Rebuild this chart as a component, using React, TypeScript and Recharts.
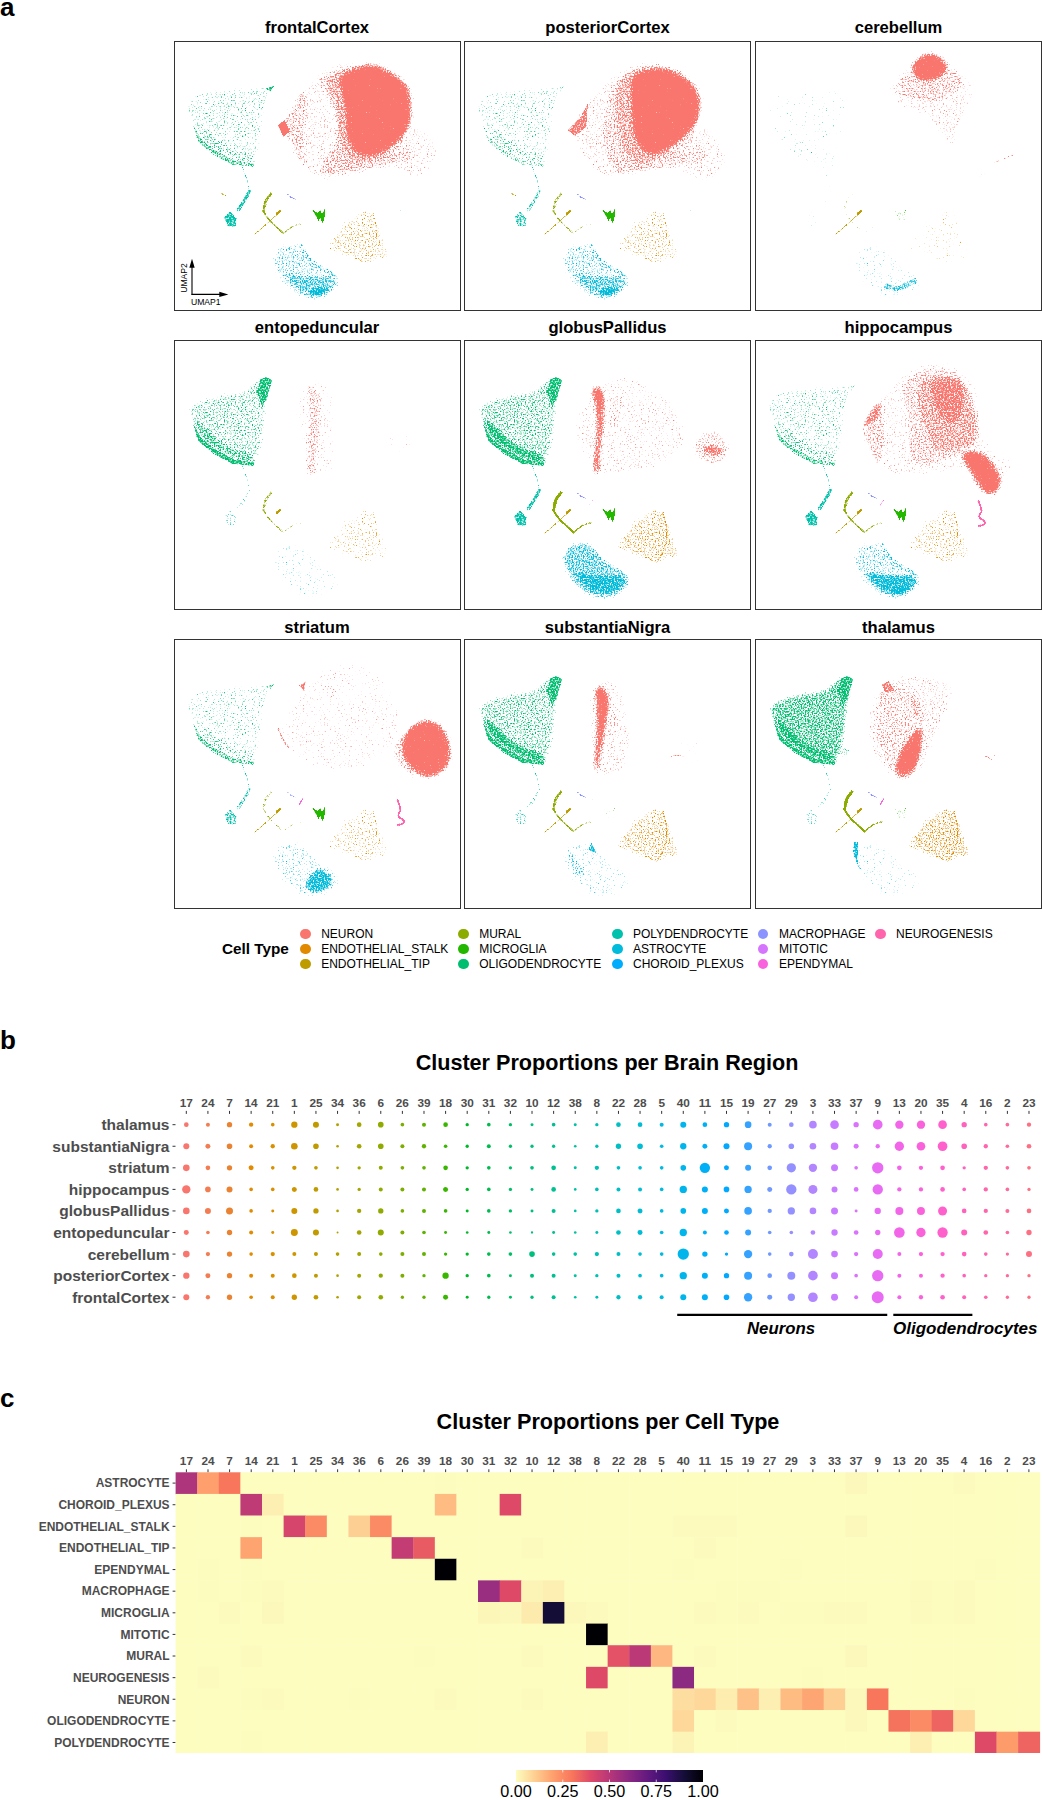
import React from "react";
import { ScatterChart, Scatter, XAxis, YAxis, ZAxis, ReferenceLine, ReferenceArea } from "recharts";

// ---------- shared categories ----------
const clusters = [17,24,7,14,21,1,25,34,36,6,26,39,18,30,31,32,10,12,38,8,22,28,5,40,11,15,19,27,29,3,33,37,9,13,20,35,4,16,2,23];
const regionRows = ["thalamus","substantiaNigra","striatum","hippocampus","globusPallidus","entopeduncular","cerebellum","posteriorCortex","frontalCortex"];
const cellRows = ["ASTROCYTE","CHOROID_PLEXUS","ENDOTHELIAL_STALK","ENDOTHELIAL_TIP","EPENDYMAL","MACROPHAGE","MICROGLIA","MITOTIC","MURAL","NEUROGENESIS","NEURON","OLIGODENDROCYTE","POLYDENDROCYTE"];

// ---------- panel b: proportion per region (one list per row, in cluster order) ----------
const thalamus = [1.36,1.0,1.78,1.17,.84,2.5,2.25,.56,1.36,2.0,.84,1.0,1.36,.69,.84,.69,.56,.84,.56,.69,1.36,1.36,1.0,2.25,1.36,1.78,2.78,1.0,1.36,3.67,4.69,1.78,5.84,4.34,4.34,4.69,1.78,.84,.84,1.17];
const substantiaNigra = [2.25,1.56,2.0,1.0,1.17,2.78,2.0,.44,1.36,2.0,1.0,1.17,.84,.69,1.0,.69,.69,.69,.44,.69,1.78,2.0,.84,2.5,1.56,2.25,4.0,1.17,2.0,2.78,3.67,1.56,1.17,5.44,4.69,5.84,2.0,1.17,.84,1.36];
const striatum = [2.78,1.36,1.78,1.56,.84,1.17,.84,.44,.69,1.0,.84,.84,1.36,.69,.84,.69,.84,1.36,.56,1.17,.84,.84,.84,2.0,6.67,1.56,2.25,1.36,5.44,4.34,3.06,.84,8.03,1.36,1.17,1.36,.69,1.17,.84,.84];
const hippocampus = [4.34,2.0,2.25,.84,.84,1.56,1.36,.44,.69,1.0,1.0,1.0,1.56,.69,.84,.69,.56,1.36,.44,.84,1.0,1.0,.84,3.36,2.25,2.0,3.36,1.56,6.67,5.06,2.25,1.36,6.67,1.17,1.17,1.36,.84,1.17,.84,.69];
const globusPallidus = [2.78,2.25,3.06,.84,.56,2.25,1.78,.44,1.17,1.78,.84,1.0,.84,.56,.84,.69,.56,1.0,.44,.69,1.36,1.56,.84,2.0,2.25,1.56,3.67,1.17,3.36,2.78,3.06,.56,2.5,4.0,4.0,5.06,1.36,1.17,1.0,1.36];
const entopeduncular = [1.56,.84,1.78,1.0,.56,3.06,2.25,.25,1.36,2.25,1.0,.84,.56,.44,.56,.44,.34,.56,.44,.56,1.36,1.56,.84,3.36,1.0,1.36,2.25,.84,.84,1.36,2.5,1.36,1.78,7.1,5.44,6.67,2.25,1.36,.84,1.78];
const cerebellum = [2.78,1.17,1.78,.84,1.17,1.0,1.0,.84,1.0,.84,1.0,1.0,.69,.69,.84,.84,2.0,.84,.84,1.17,1.0,.84,.84,8.03,1.78,.69,4.34,.84,1.36,6.25,2.78,1.17,6.25,1.0,1.17,1.17,1.36,.84,.69,2.25];
const posteriorCortex = [2.5,1.56,1.78,1.0,1.0,1.36,1.0,.44,1.0,1.17,1.0,.69,2.5,.69,.84,.56,1.0,1.0,.56,.69,1.0,.84,.84,3.36,2.25,1.78,4.0,1.36,4.0,5.84,3.06,.84,8.03,1.0,1.0,1.17,.84,.69,.69,.69];
const frontalCortex = [2.25,1.17,1.78,.84,1.0,1.78,1.36,.44,1.0,1.36,.69,.69,1.56,.56,.69,.56,.69,1.0,.44,.56,1.17,1.17,1.0,2.25,2.25,2.0,4.34,1.56,3.36,5.84,3.06,1.0,9.0,1.0,1.17,1.36,1.0,.84,.69,.69];
const regionValues = [thalamus,substantiaNigra,striatum,hippocampus,globusPallidus,entopeduncular,cerebellum,posteriorCortex,frontalCortex];

// ---------- panel c: proportion per cell type, keyed by cluster label (absent = 0) ----------
const heatAstrocyte = {17:.52,24:.2,7:.3,18:.002,37:.012,4:.006};
const heatChoroid = {14:.48,21:.03,18:.14,32:.4};
const heatStalk = {14:.002,1:.42,25:.25,36:.1,6:.25,40:.004,11:.004,15:.004,37:.01};
const heatTip = {14:.19,26:.47,39:.36,10:.004,11:.004};
const heatEpendymal = {24:.003,14:.003,18:1,40:.002,29:.002,16:.002};
const heatMacrophage = {17:.001,24:.002,14:.003,21:.005,31:.57,32:.4,10:.02,12:.03,15:.003,19:.003,27:.003,20:.006,35:.002,4:.004};
const heatMicroglia = {7:.004,21:.012,31:.015,32:.01,10:.04,12:.9,38:.01,8:.004,11:.004,15:.003,19:.004,29:.002,3:.002,33:.007,37:.007,20:.004,35:.003,4:.007};
const heatMitotic = {8:1};
const heatMural = {14:.006,39:.003,10:.006,22:.38,28:.49,5:.15,11:.004,37:.012};
const heatNeurogenesis = {24:.006,8:.4,40:.6,3:.002};
const heatNeuron = {14:.002,21:.004,36:.003,18:.006,10:.004,40:.07,11:.08,15:.035,19:.13,27:.03,29:.14,3:.185,33:.1,37:.01,9:.3,4:.002};
const heatOligo = {40:.08,15:.006,3:.001,37:.01,13:.31,20:.25,35:.34,4:.08};
const heatPoly = {14:.002,8:.03,40:.02,20:.03,16:.4,2:.21,23:.34};
const heatValues = [heatAstrocyte,heatChoroid,heatStalk,heatTip,heatEpendymal,heatMacrophage,heatMicroglia,heatMitotic,heatMural,heatNeurogenesis,heatNeuron,heatOligo,heatPoly];
const colorbarTicks = [0,.25,.5,.75,1];

// ---------- panel a: legend ----------
const legendColumns = [
  ["NEURON","ENDOTHELIAL_STALK","ENDOTHELIAL_TIP"],
  ["MURAL","MICROGLIA","OLIGODENDROCYTE"],
  ["POLYDENDROCYTE","ASTROCYTE","CHOROID_PLEXUS"],
  ["MACROPHAGE","MITOTIC","EPENDYMAL"],
  ["NEUROGENESIS"],
];
const typeColors = {NEURON:"#F8766D",ENDOTHELIAL_STALK:"#E18A00",ENDOTHELIAL_TIP:"#BE9C00",MURAL:"#8CAB00",MICROGLIA:"#24B700",OLIGODENDROCYTE:"#00BE70",POLYDENDROCYTE:"#00C1AB",ASTROCYTE:"#00BBDA",CHOROID_PLEXUS:"#00ACFC",MACROPHAGE:"#8B93FF",MITOTIC:"#D575FE",EPENDYMAL:"#F962DD",NEUROGENESIS:"#FF65AC"};

// ---------- panel a: outlines of the point clouds (UMAP units, y down) ----------
const oligoSlim = [[36,178],[58,150],[118,138],[178,138],[248,135],[306,124],[285,155],[270,225],[255,305],[248,375],[178,365],[125,340],[72,298],[46,250],[32,215]];
const oligoBroad = [[44,185],[130,160],[200,155],[255,105],[295,108],[280,170],[268,285],[248,378],[150,350],[76,298],[38,230]];
const oligoBelt = [[42,225],[85,240],[130,290],[190,325],[245,340],[245,380],[150,350],[74,298]];
const oligoBand = [[53,245],[78,290],[128,330],[178,355],[240,365],[238,378],[170,370],[118,342],[68,300]];
const oligoApex = [[255,115],[275,108],[292,118],[278,170],[262,200],[245,155]];
const oligoTip = [[270,140],[300,130],[285,150]];
const oligoSpur = [[248,308],[306,338],[238,363]];
const polyStem = [[200,375],[218,415],[223,445],[208,475],[188,510]];
const polyThick = [[223,450],[208,478],[190,505]];
const polyBlob = [[146,528],[165,510],[186,532],[182,556],[158,556]];
const polyArc = [[673,500],[688,530],[675,553]];
const tipDot = [[138,455],[152,463]];
const tipDiag = [[236,582],[306,520]];
const tipKnob = [[306,518],[314,510]];
const muralTop = [[288,457],[270,480],[266,510]];
const muralArc = [[266,510],[280,535],[303,555],[326,577]];
const muralFoot = [[326,577],[350,555],[378,547]];
const macroArc = [[338,460],[350,470],[362,473]];
const microStar = [[410,503],[428,515],[436,505],[441,517],[452,498],[449,525],[444,548],[436,530],[430,540],[425,528]];
const stalkHull = [[445,620],[505,540],[578,495],[608,530],[625,595],[650,660],[610,650],[578,678],[515,650]];
const stalkRidge = [[593,515],[613,595],[578,665]];
const stalkEdge = [[453,617],[518,640],[578,668]];
const astroHull = [[290,650],[312,605],[385,605],[412,658],[485,692],[503,733],[440,782],[370,770],[322,733],[296,680]];
const astroLow = [[320,690],[400,700],[478,700],[495,730],[438,772],[378,762],[335,722]];
const astroBase = [[378,745],[450,735],[492,730],[438,772],[390,765]];
const astroRidge = [[378,615],[408,665],[478,702]];
const astroCrescent = [[392,735],[425,745],[476,720]];
const astroCorner = [[377,738],[432,668],[488,723],[455,758],[410,768]];
const astroLeft = [[295,613],[329,638],[373,708],[340,728],[306,678]];
const astroFin = [[379,610],[396,643],[368,633]];
const astroEdge = [[293,608],[306,608],[308,678],[328,708],[303,678],[291,638]];
const ependSliver = [[383,478],[373,495]];
const neurogArc = [[668,483],[674,500],[678,513],[668,525],[672,535],[688,542],[686,553],[668,557]];
const axisUp = [[51,760],[51,665]];
const axisRight = [[51,760],[145,760]];
const arrowUp = [[51,653],[43,680],[59,680]];
const arrowRight = [[160,760],[133,752],[133,768]];

const fcHull = [[308,260],[358,165],[428,95],[508,45],[578,75],[688,145],[693,245],[778,275],[798,355],[718,425],[658,375],[478,415],[428,415],[368,365],[338,295]];
const fcLobe = [[308,260],[340,215],[370,150],[400,135],[405,220],[385,320],[415,400],[370,365],[338,295]];
const fcTip = [[308,250],[330,235],[345,270],[325,285]];
const fcLower = [[415,400],[470,290],[650,340],[700,290],[725,365],[650,370],[478,412]];
const fcMid = [[415,105],[508,70],[610,70],[695,165],[705,295],[650,355],[478,405],[440,395],[480,290],[478,205],[440,150]];
const fcInner = [[445,105],[508,70],[610,65],[705,170],[710,270],[640,345],[538,385],[480,300],[480,205],[452,150]];
const fcCore = [[480,100],[560,65],[610,65],[700,120],[712,180],[710,265],[640,335],[550,360],[505,290],[510,210],[492,150]];
const pcHull = [[307,265],[365,170],[455,90],[538,40],[655,85],[688,145],[691,255],[744,255],[800,365],[722,435],[655,390],[544,390],[443,415],[382,400],[343,335]];
const pcMid = [[440,100],[640,70],[695,225],[705,300],[560,390],[440,405],[400,300],[420,180]];
const pcInner = [[445,110],[530,65],[630,70],[700,135],[708,230],[650,310],[544,385],[470,345],[445,245]];
const pcCore = [[485,100],[560,70],[630,80],[705,135],[712,230],[650,305],[555,360],[500,300],[495,200]];
const pcLow = [[430,405],[480,300],[650,330],[705,290],[745,370],[650,375],[500,400]];
const pcTip = [[307,265],[343,230],[370,180],[365,255],[332,285]];
const cbHull = [[392,135],[459,65],[593,65],[671,145],[615,235],[604,325],[559,295],[515,215],[431,210],[403,165]];
const cbMid = [[448,85],[582,65],[638,115],[594,165],[527,195],[448,165],[409,135]];
const cbHead = [[460,75],[492,38],[531,28],[578,60],[578,98],[515,128],[470,110]];
const cbStreak = [[431,155],[470,165],[537,173]];
const cbArc = [[715,363],[782,335]];
const cbSpots = [[648,375],[715,375],[682,445]];
const enHull = [[354,203],[388,123],[455,113],[488,193],[477,313],[488,393],[399,413],[377,283]];
const enBand = [[382,128],[421,133],[449,173],[438,283],[427,413],[388,413],[393,303],[399,193]];
const enDots = [[588,328],[700,243],[722,333],[677,348]];
const gpHull = [[312,273],[373,143],[485,93],[596,153],[652,233],[674,323],[563,393],[407,413],[351,333]];
const gpBand = [[373,143],[395,128],[423,153],[418,253],[407,343],[407,413],[379,403],[390,303],[395,203]];
const gpSide = [[423,153],[496,163],[473,243],[423,283]];
const gpCloud = [[674,323],[708,273],[763,263],[807,328],[763,383],[708,368]];
const gpCore = [[696,323],[741,303],[797,333],[741,358]];
const hcHull = [[308,268],[373,158],[508,43],[628,83],[678,173],[688,333],[788,353],[758,403],[733,433],[703,453],[628,383],[468,413],[378,403],[338,333]];
const hcMid = [[438,113],[518,73],[628,93],[673,213],[678,313],[628,343],[518,383],[448,373],[458,243],[428,153]];
const hcInner = [[470,125],[530,95],[625,105],[665,210],[670,310],[620,335],[530,345],[490,240]];
const hcCore = [[530,100],[635,108],[625,250],[558,260],[510,163]];
const hcLobe = [[308,268],[373,158],[398,243],[378,403],[338,333]];
const hcEdge = [[308,268],[368,163],[388,223],[333,263]];
const hcFoot = [[600,335],[680,322],[745,410],[725,465],[680,465],[640,390]];
const stHull = [[310,268],[388,118],[499,58],[610,88],[700,228],[655,328],[555,398],[455,398],[365,358],[332,318]];
const stPatch = [[432,128],[488,128],[499,188],[455,188]];
const stFringe = [[640,335],[695,260],[711,388],[744,425],[695,415]];
const stBall = [[695,265],[745,235],[800,250],[832,318],[825,385],[760,425],[700,390],[668,325]];
const stMark = [[371,138],[393,123],[388,153]];
const stLine = [[388,148],[397,208]];
const stEdge = [[310,268],[321,298],[341,323]];
const snHull = [[367,188],[384,128],[451,108],[496,218],[496,388],[418,418],[384,408],[373,288]];
const snSide = [[418,148],[479,218],[435,318],[412,258]];
const snBand = [[384,138],[417,133],[440,178],[423,268],[412,338],[401,408],[384,408],[390,308],[395,208]];
const snDots = [[595,338],[695,273],[717,388],[629,383]];
const snStreak = [[618,350],[663,346]];
const thHull = [[328,228],[378,128],[448,98],[618,128],[548,268],[513,368],[488,413],[408,418],[363,378],[333,298]];
const thMid = [[373,138],[408,123],[498,158],[513,258],[488,388],[418,413],[368,348],[348,218]];
const thCore = [[418,348],[488,248],[508,268],[488,388],[448,418],[413,413]];
const thTop = [[376,133],[398,123],[418,153],[388,158]];
const thRidge = [[458,158],[488,158],[498,258],[468,238]];
const thRight = [[658,328],[708,318],[753,388]];
const thStreak = [[688,350],[708,360]];

// stroke widths of the outlines that are curves instead of filled areas
const strokeWidths = new Map<any, number>([
  [polyStem,1.8],[polyThick,3.8],[polyArc,1.1],[tipDot,1.8],[tipDiag,1.1],[tipKnob,2.8],[muralTop,3.2],[muralArc,2.2],[muralFoot,1.8],[macroArc,1.8],
  [stalkRidge,2.2],[stalkEdge,1],[astroRidge,5],[astroCrescent,6],[ependSliver,1.4],[neurogArc,2],[axisUp,1.1],[axisRight,1.1],
  [cbStreak,1.6],[cbArc,1.4],[stLine,1.2],[stEdge,2.4],[snStreak,1.4],[thStreak,1.4],
]);
const fineShapes = new Set<any>([oligoBand,oligoTip,oligoApex,polyBlob,microStar,fcTip,astroFin,astroEdge,stMark,thTop,pcTip]);

// per-panel cloud density of the clusters that keep their place in every panel
const panelNames = ["frontalCortex","posteriorCortex","cerebellum","entopeduncular","globusPallidus","hippocampus","striatum","substantiaNigra","thalamus"];
const oligoDensity = [.25,.2,.03,.45,.55,.25,.2,.55,.7];
const beltDensity = [.45,.35,.06,.7,.85,.45,.35,.85,.85];
const bandDensity = [.7,.55,.1,.85,.85,.7,.7,.85,.85];
const stalkDensity = [.35,.3,.06,.2,.45,.3,.25,.45,.55];
const ridgeDensity = [.55,.45,.06,.3,.7,.55,.45,.7,.7];
const astroDensity = [.45,.45,.1,.1,.7,.45,.25,.15,.1];
const polyDensity = [.85,.7,.06,.35,.85,.85,.7,.45,.35];
const muralDensity = [.85,.7,.2,.7,1,.85,.55,.85,1];
const microDensity = [1,1,.35,0,1,1,1,.2,.35];
const macroDensity = [.7,.7,0,0,.7,.7,.55,.7,.7];
const ependDensity = [0,0,0,0,.7,.85,1,.55,1];
const neurogDensity = [0,0,0,0,0,1,1,0,0];

const neuronLayers: any[][] = [
  [[fcHull,.2],[fcLobe,.55],[fcLower,.55],[fcMid,.55],[fcInner,.7],[fcCore,1],[fcTip,1]],
  [[pcHull,.2],[pcLow,.45],[pcMid,.55],[pcInner,.7],[pcCore,1],[pcTip,.85]],
  [[cbHull,.2],[cbSpots,.06],[cbMid,.55],[cbHead,1],[cbStreak,.7],[cbArc,.55]],
  [[enHull,.1],[enDots,.03],[enBand,.55]],
  [[gpHull,.15],[gpSide,.35],[gpBand,1],[gpCloud,.45],[gpCore,.85]],
  [[hcHull,.15],[hcLobe,.55],[hcMid,.55],[hcInner,.7],[hcEdge,.85],[hcCore,.85],[hcFoot,1]],
  [[stHull,.1],[stPatch,.25],[stFringe,.55],[stBall,1],[stMark,.85],[stLine,.55],[stEdge,.7]],
  [[snHull,.2],[snDots,.03],[snSide,.35],[snBand,1],[snStreak,.55]],
  [[thHull,.25],[thRight,.1],[thMid,.45],[thRidge,.7],[thTop,.85],[thCore,1],[thStreak,.85]],
];
const extraLayers: any[][] = [
  [[oligoTip,"OLIGODENDROCYTE",.85]],
  [[oligoTip,"OLIGODENDROCYTE",.55]],
  [[astroCrescent,"ASTROCYTE",.7]],
  [[oligoApex,"OLIGODENDROCYTE",.85]],
  [[oligoApex,"OLIGODENDROCYTE",.85]],
  [[oligoTip,"OLIGODENDROCYTE",.55]],
  [[oligoTip,"OLIGODENDROCYTE",.7],[astroCorner,"ASTROCYTE",.85]],
  [[oligoApex,"OLIGODENDROCYTE",.85],[astroLeft,"ASTROCYTE",.55],[astroFin,"ASTROCYTE",.85]],
  [[oligoApex,"OLIGODENDROCYTE",.85],[oligoSpur,"OLIGODENDROCYTE",.55],[astroEdge,"ASTROCYTE",.85]],
];
const lowDense = [true,true,false,false,false,true,false,false,false];
const broadOligo = [false,false,false,true,true,false,false,true,true];

const DENSITY_LEVELS = [.03,.06,.1,.15,.2,.25,.3,.35,.45,.55,.7,.85,1];
const SOURCE_OPACITY = [.27,.30,.33,.36,.38,.40,.42,.44,.47,.50,.60,.72,1];

function opacityFor(d: number) {
  let best = 0;
  DENSITY_LEVELS.forEach((l, i) => { if (Math.abs(l - d) < Math.abs(DENSITY_LEVELS[best] - d)) best = i; });
  return SOURCE_OPACITY[best];
}

function layersFor(p: number) {
  const L: any[] = [];
  const add = (pts: any, type: string, d: number) => { if (d > 0) L.push({ pts, type, d }); };
  add(broadOligo[p] ? oligoBroad : oligoSlim, "OLIGODENDROCYTE", oligoDensity[p]);
  add(oligoBelt, "OLIGODENDROCYTE", beltDensity[p]);
  add(oligoBand, "OLIGODENDROCYTE", bandDensity[p]);
  add(polyStem, "POLYDENDROCYTE", Math.min(polyDensity[p], .55));
  add(polyThick, "POLYDENDROCYTE", polyDensity[p]);
  add(polyBlob, "POLYDENDROCYTE", polyDensity[p]);
  add(polyArc, "POLYDENDROCYTE", p === 0 || p === 1 ? .55 : 0);
  add(tipDot, "ENDOTHELIAL_TIP", p === 0 || p === 1 ? .7 : 0);
  add(tipDiag, "ENDOTHELIAL_TIP", p === 3 ? 0 : .85);
  add(tipKnob, "ENDOTHELIAL_TIP", 1);
  add(muralTop, "MURAL", muralDensity[p]);
  add(muralArc, "MURAL", muralDensity[p]);
  add(muralFoot, "MURAL", muralDensity[p] * .8);
  add(macroArc, "MACROPHAGE", macroDensity[p]);
  add(ependSliver, "EPENDYMAL", ependDensity[p]);
  add(microStar, "MICROGLIA", microDensity[p]);
  add(stalkHull, "ENDOTHELIAL_STALK", stalkDensity[p]);
  add(stalkRidge, "ENDOTHELIAL_STALK", ridgeDensity[p]);
  add(stalkEdge, "ENDOTHELIAL_STALK", ridgeDensity[p]);
  add(astroHull, "ASTROCYTE", astroDensity[p]);
  if (lowDense[p]) {
    add(astroLow, "ASTROCYTE", p === 5 ? .85 : .7);
    add(astroBase, "ASTROCYTE", 1);
    add(astroRidge, "ASTROCYTE", .55);
  }
  if (p === 4) add(astroLow, "ASTROCYTE", .85);
  add(neurogArc, "NEUROGENESIS", neurogDensity[p]);
  neuronLayers[p].forEach(([pts, d]) => add(pts, "NEURON", d));
  extraLayers[p].forEach(([pts, type, d]) => add(pts, type, d));
  return L;
}

const Nothing = () => <g />;

const straightPath = (points: any[], closed: boolean) =>
  points.map((q, i) => (i ? "L" : "M") + q.x + " " + q.y).join(" ") + (closed ? " Z" : "");

// rounded outline: the corners are cut by running through the midpoints of the sides
function roundedPath(points: any[], closed: boolean) {
  const n = points.length;
  const mid = (a: any, b: any) => `${(a.x + b.x) / 2} ${(a.y + b.y) / 2}`;
  if (!closed) {
    if (n < 3) return straightPath(points, false);
    let d = `M${points[0].x} ${points[0].y} L${mid(points[0], points[1])}`;
    for (let i = 1; i < n - 1; i++) d += ` Q${points[i].x} ${points[i].y} ${mid(points[i], points[i + 1])}`;
    return d + ` L${points[n - 1].x} ${points[n - 1].y}`;
  }
  let d = "M" + mid(points[n - 1], points[0]);
  points.forEach((q, i) => { d += ` Q${q.x} ${q.y} ${mid(q, points[(i + 1) % n])}`; });
  return d + " Z";
}

function cloudLine(layer: any, color: string) {
  const width = strokeWidths.get(layer.pts);
  const isLine = width !== undefined;
  const fine = isLine || fineShapes.has(layer.pts);
  const filter = layer.plain ? undefined : fine ? "url(#cloudFine)" : layer.d >= 1 ? "url(#cloudSoft)" : "url(#cloud)";
  const op = layer.plain ? 1 : opacityFor(layer.d);
  const rounded = !layer.plain && (isLine || !fine);
  return (props: any) => (
    <path
      d={rounded ? roundedPath(props.points, !isLine) : straightPath(props.points, !isLine)}
      fill={isLine ? "none" : color}
      fillOpacity={op}
      stroke={isLine ? color : "none"}
      strokeOpacity={op}
      strokeWidth={width}
      strokeLinecap="round"
      strokeLinejoin="round"
      filter={filter}
    />
  );
}

function toPoints(pts: number[][]) {
  return pts.map(([x, y]) => ({ x, y }));
}

const PANEL_W = 285;
const PANEL_H = 268;
const panelLefts = [174.5, 465, 756];
const panelTops = [42, 340.5, 640];
const titleTops = [28, 328, 628];

function UmapPanel({ index }: { index: number }) {
  const col = index % 3;
  const row = Math.floor(index / 3);
  const layers = layersFor(index);
  return (
    <>
      <div style={{ position: "absolute", left: panelLefts[col], width: PANEL_W, top: titleTops[row] - 12, height: 24, lineHeight: "24px", textAlign: "center", fontWeight: 700, fontSize: 16.6, color: "#000" }}>{panelNames[index]}</div>
      <div style={{ position: "absolute", left: panelLefts[col], top: panelTops[row], width: PANEL_W, height: PANEL_H }}>
        <ScatterChart width={PANEL_W} height={PANEL_H} margin={{ top: 0, right: 0, bottom: 0, left: 0 }}>
          <XAxis type="number" dataKey="x" domain={[0, 855]} hide />
          <YAxis type="number" dataKey="y" domain={[0, 807]} reversed hide />
          {layers.map((l, i) => (
            <Scatter key={i} data={toPoints(l.pts)} fill={typeColors[l.type]} isAnimationActive={false} shape={Nothing} line={cloudLine(l, typeColors[l.type])} />
          ))}
          {index === 0 && [axisUp, axisRight, arrowUp, arrowRight].map((pts, i) => (
            <Scatter key={"ax" + i} data={toPoints(pts)} fill="#000" isAnimationActive={false} shape={Nothing} line={cloudLine({ pts, d: 1, plain: true }, "#000")} />
          ))}
        </ScatterChart>
      </div>
      <div style={{ position: "absolute", left: panelLefts[col] - 1, top: panelTops[row] - 1, width: PANEL_W + 2, height: PANEL_H + 2, boxSizing: "border-box", border: "1.4px solid #333" }} />
    </>
  );
}

// ---------- colours ----------
function hueColor(h: number) {
  const L = 65, C = 100, r = (h * Math.PI) / 180;
  const U = C * Math.cos(r), V = C * Math.sin(r);
  const Y = Math.pow((L + 16) / 116, 3);
  const u = U / (13 * L) + 0.19783, v = V / (13 * L) + 0.46832;
  const X = (9 * Y * u) / (4 * v);
  const Z = -X / 3 - 5 * Y + (3 * Y) / v;
  const lin = [3.2406 * X - 1.5372 * Y - 0.4986 * Z, -0.9689 * X + 1.8758 * Y + 0.0415 * Z, 0.0557 * X - 0.204 * Y + 1.057 * Z];
  const g = lin.map((c) => {
    const k = c <= 0.0031308 ? 12.92 * Math.max(c, 0) : 1.055 * Math.pow(c, 1 / 2.4) - 0.055;
    return Math.round(Math.min(1, k) * 255);
  });
  return `rgb(${g[0]},${g[1]},${g[2]})`;
}
const magmaStops = ["#FCFDBF","#FECF92","#FE9F6D","#F8765C","#DE4968","#B73779","#8C2981","#641A80","#3B0F70","#140E36","#000004"];
function magma(t: number) {
  const p = Math.min(.9999, t) * 10, i = Math.floor(p), f = p - i;
  const a = magmaStops[i], b = magmaStops[i + 1];
  const ch = (s: string, k: number) => parseInt(s.slice(1 + k * 2, 3 + k * 2), 16);
  return `rgb(${[0, 1, 2].map((k) => Math.round(ch(a, k) + (ch(b, k) - ch(a, k)) * f)).join(",")})`;
}

// ---------- panels b and c ----------
const tickStyle = { fontSize: 11.8, fontWeight: 700, fill: "#4D4D4D", fontFamily: "Liberation Sans" };
const clusterLabel = (i: number) => String(clusters[i]);
const colTicks = clusters.map((_, i) => i);

function DotPlot() {
  return (
    <div style={{ position: "absolute", left: 0, top: 1080 }}>
      <ScatterChart width={1042} height={258} margin={{ top: 0, right: 2.2, bottom: 30, left: 0 }}>
        <XAxis type="number" dataKey="col" orientation="top" height={33.9} domain={[-0.5, 39.5]} ticks={colTicks} interval={0} tickFormatter={clusterLabel} axisLine={false} tickSize={3} tickMargin={4} stroke="#333" tick={tickStyle} />
        <YAxis type="number" dataKey="row" width={175.5} domain={[-0.5, 8.5]} reversed ticks={regionRows.map((_, i) => i)} interval={0} tickFormatter={(i: number) => regionRows[i]} axisLine={false} tickSize={3} tickMargin={3} stroke="#333" tick={{ fontSize: 15.5, fontWeight: 700, fill: "#4D4D4D", fontFamily: "Liberation Sans" }} />
        <ZAxis type="number" dataKey="v" domain={[0, 9]} range={[0, 113]} />
        {clusters.map((c, ci) => (
          <Scatter key={c} data={regionRows.map((_, ri) => ({ col: ci, row: ri, v: regionValues[ri][ci] }))} fill={hueColor(15 + (360 * ci) / 40)} isAnimationActive={false} />
        ))}
        <ReferenceLine ifOverflow="visible" stroke="#000" strokeWidth={2.2} segment={[{ x: 22.72, y: 8.82 }, { x: 32.44, y: 8.82 }]} />
        <ReferenceLine ifOverflow="visible" stroke="#000" strokeWidth={2.2} segment={[{ x: 32.72, y: 8.82 }, { x: 36.38, y: 8.82 }]} />
      </ScatterChart>
    </div>
  );
}

const heatCells = cellRows.flatMap((_, ri) => clusters.map((c, ci) => ({ col: ci, row: ri, v: heatValues[ri][c] ?? 0 })));
const CELL_W = 21.6;
const CELL_H = 21.62;
const HeatCell = (props: any) => (
  <rect x={props.cx - CELL_W / 2} y={props.cy - CELL_H / 2} width={CELL_W + .4} height={CELL_H + .4} fill={magma(props.payload.v)} />
);

function Heatmap() {
  return (
    <div style={{ position: "absolute", left: 0, top: 1440 }}>
      <ScatterChart width={1042} height={313.3} margin={{ top: 0, right: 2.3, bottom: 0, left: 0 }}>
        <XAxis type="number" dataKey="col" orientation="top" height={32.3} domain={[-0.5, 39.5]} ticks={colTicks} interval={0} tickFormatter={clusterLabel} axisLine={false} tickSize={3} tickMargin={4} stroke="#333" tick={tickStyle} />
        <YAxis type="number" dataKey="row" width={175.6} domain={[-0.5, 12.5]} reversed ticks={cellRows.map((_, i) => i)} interval={0} tickFormatter={(i: number) => cellRows[i]} axisLine={false} tickSize={3} tickMargin={3} stroke="#333" tick={{ fontSize: 12, fontWeight: 700, fill: "#4D4D4D", fontFamily: "Liberation Sans" }} />
        <Scatter data={heatCells} fill="#FCFDBF" isAnimationActive={false} shape={HeatCell} />
      </ScatterChart>
    </div>
  );
}

function Colorbar() {
  return (
    <div style={{ position: "absolute", left: 476, top: 1760 }}>
      <ScatterChart width={267} height={40} margin={{ top: 10, right: 40, bottom: 0, left: 40 }}>
        <XAxis type="number" dataKey="x" height={18} domain={[0, 1]} ticks={colorbarTicks} interval={0} tickFormatter={(v: number) => v.toFixed(2)} axisLine={false} tickLine={false} tickMargin={-3} tick={{ fontSize: 16.2, fill: "#000", fontFamily: "Liberation Sans" }} />
        <YAxis type="number" dataKey="y" domain={[0, 1]} hide />
        <ReferenceArea x1={0} x2={1} y1={0} y2={1} fill="url(#magmaBar)" fillOpacity={1} stroke="none" ifOverflow="visible" />
        <Scatter data={colorbarTicks.map((x) => ({ x, y: .5 }))} isAnimationActive={false} shape={Nothing} />
        {colorbarTicks.slice(1, 4).flatMap((x) => [
          <ReferenceLine key={x + "a"} stroke="#fff" strokeOpacity={.7} segment={[{ x, y: 0 }, { x, y: .2 }]} />,
          <ReferenceLine key={x + "b"} stroke="#fff" strokeOpacity={.7} segment={[{ x, y: .8 }, { x, y: 1 }]} />,
        ])}
      </ScatterChart>
    </div>
  );
}

function SharedDefs() {
  const region = { filterUnits: "userSpaceOnUse", x: -5, y: -5, width: 300, height: 280, colorInterpolationFilters: "sRGB" } as any;
  const speckle = (id: string, blur: number) => (
    <filter id={id} {...region}>
      <feGaussianBlur in="SourceGraphic" stdDeviation={blur} result="b" />
      <feTurbulence type="fractalNoise" baseFrequency="0.71 0.67" numOctaves={2} seed={7} result="n" />
      <feColorMatrix in="n" type="matrix" values="0 0 0 0 0  0 0 0 0 0  0 0 0 0 0  0 0 0 1 0" result="na" />
      <feComposite in="b" in2="na" operator="arithmetic" k1={0} k2={4} k3={4} k4={-4} result="mask" />
      <feColorMatrix in="b" type="matrix" values="1 0 0 0 0  0 1 0 0 0  0 0 1 0 0  0 0 0 60 0" result="col" />
      <feComposite in="col" in2="mask" operator="in" />
    </filter>
  );
  return (
    <svg width={0} height={0} style={{ position: "absolute", left: 0, top: 0 }}>
      <defs>
        <linearGradient id="magmaBar" x1="0" x2="1" y1="0" y2="0">
          {magmaStops.map((c, i) => <stop key={i} offset={i / 10} stopColor={c} />)}
        </linearGradient>
        {speckle("cloud", 2)}
        {speckle("cloudSoft", 3.5)}
        {speckle("cloudFine", 0.45)}
      </defs>
    </svg>
  );
}

const legendDotX = [305.6, 463.6, 617.4, 763.3, 880.4];
const legendRowY = [933.7, 949, 963.7];

function Legend() {
  return (
    <>
      <div style={{ position: "absolute", left: 222, top: 939, height: 20, lineHeight: "20px", fontSize: 15.3, fontWeight: 700, color: "#000", whiteSpace: "nowrap" }}>Cell Type</div>
      {legendColumns.map((col, ci) => col.map((name, ri) => (
        <React.Fragment key={name}>
          <div style={{ position: "absolute", left: legendDotX[ci] - 5.2, top: legendRowY[ri] - 5.2, width: 10.4, height: 10.4, borderRadius: "50%", background: typeColors[name] }} />
          <div style={{ position: "absolute", left: legendDotX[ci] + 15.6, top: legendRowY[ri] - 8, height: 16, lineHeight: "16px", fontSize: 12, color: "#000", whiteSpace: "nowrap" }}>{name}</div>
        </React.Fragment>
      )))}
    </>
  );
}

function Abs({ left, top, size, bold = true, italic = false, w, center, lh, children }: any) {
  return (
    <div style={{ position: "absolute", left, top, width: w, textAlign: center ? "center" : "left", fontSize: size, lineHeight: `${lh ?? Math.round(size * 1.2)}px`, fontWeight: bold ? 700 : 400, fontStyle: italic ? "italic" : "normal", color: "#000", whiteSpace: "nowrap" }}>{children}</div>
  );
}

export default function App() {
  return (
    <div style={{ position: "absolute", left: 0, top: 0, width: 1042, height: 1800, background: "#fff", overflow: "hidden", fontFamily: "'Liberation Sans', Arial, sans-serif" }}>
      <SharedDefs />
      <Abs left={0} top={0} size={26} lh={14}>a</Abs>
      <Abs left={0} top={1025} size={26}>b</Abs>
      <Abs left={0} top={1383} size={26}>c</Abs>
      {panelNames.map((_, i) => <UmapPanel key={i} index={i} />)}
      <div style={{ position: "absolute", left: 191, top: 296, fontSize: 8.6, lineHeight: "12px", color: "#000" }}>UMAP1</div>
      <div style={{ position: "absolute", left: 169, top: 272, width: 30, fontSize: 8.6, lineHeight: "12px", textAlign: "center", color: "#000", transform: "rotate(-90deg)" }}>UMAP2</div>
      <Legend />
      <Abs left={215} w={784} center top={1050} size={21.6}>Cluster Proportions per Brain Region</Abs>
      <DotPlot />
      <Abs left={741} w={80} center top={1319} size={16.8} italic>Neurons</Abs>
      <Abs left={893} top={1319} size={17} italic>Oligodendrocytes</Abs>
      <Abs left={216} w={784} center top={1409} size={21.6}>Cluster Proportions per Cell Type</Abs>
      <Heatmap />
      <Colorbar />
    </div>
  );
}
